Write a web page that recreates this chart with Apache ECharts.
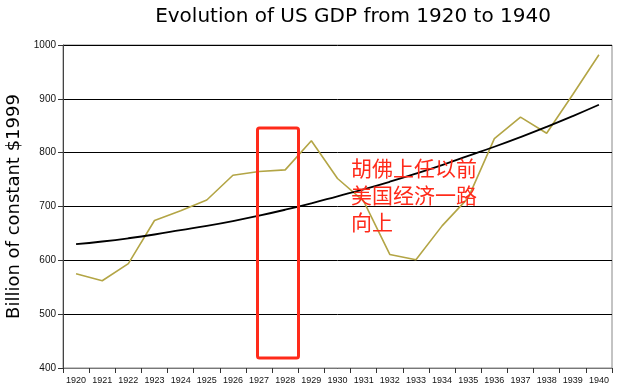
<!DOCTYPE html>
<html>
<head>
<meta charset="utf-8">
<script src="https://cdn.jsdelivr.net/npm/echarts@6/dist/echarts.min.js"></script>
<style>html,body{margin:0;padding:0;background:#fff;}#c{width:628px;height:391px;}</style>
</head>
<body>
<div id="c"></div>
<script>
const years = ['1920','1921','1922','1923','1924','1925','1926','1927','1928','1929','1930','1931','1932','1933','1934','1935','1936','1937','1938','1939','1940'];
const gdp = [575, 562, 594, 674, 692, 712, 758, 765, 768, 822, 752, 710, 611, 601, 664, 716, 826, 866, 836, 908, 982];
const trend = [630, 635, 641, 648, 656, 664, 673, 683, 694, 706, 719, 732, 746, 761, 777, 794, 811, 829, 848, 868, 889];
const yTicks = [400, 500, 600, 700, 800, 900, 1000];
const titleText = 'Evolution of US GDP from 1920 to 1940';
const yName = 'Billion of constant $1999';
const noteLines = ['胡佛上任以前', '美国经济一路', '向上'];

const chart = echarts.init(document.getElementById('c'), null, {renderer: 'canvas'});
chart.setOption({
  animation: false,
  backgroundColor: '#ffffff',
  title: {
    text: titleText, left: 348, top: 2, textAlign: 'center',
    textStyle: {fontFamily: 'DejaVu Sans', fontSize: 20, fontWeight: 'normal', color: '#000'}
  },
  grid: {left: 63, right: 16, top: 45, bottom: 23, show: true, borderColor: '#888', borderWidth: 1,
         containLabel: false, outerBoundsMode: 'none'},
  xAxis: {
    type: 'category', data: years, boundaryGap: true,
    axisLine: {lineStyle: {color: '#777', width: 1}},
    axisTick: {show: true, length: 5, lineStyle: {color: '#333'}},
    axisLabel: {fontFamily: 'Liberation Sans', fontSize: 9, color: '#111', margin: 8, interval: 0},
    splitLine: {show: false}
  },
  yAxis: {
    type: 'value', min: yTicks[0], max: yTicks[yTicks.length - 1], interval: 100,
    name: yName, nameLocation: 'middle', nameGap: 39, nameRotate: 90,
    nameTextStyle: {fontFamily: 'DejaVu Sans', fontSize: 18, color: '#000'},
    axisLine: {show: true, lineStyle: {color: '#444', width: 1}},
    axisTick: {show: true, length: 5, lineStyle: {color: '#333'}},
    axisLabel: {fontFamily: 'Liberation Sans', fontSize: 10, color: '#111', margin: 7,
                formatter: function (v) { return String(v); }},
    splitLine: {show: true, lineStyle: {color: '#000', width: 1}}
  },
  series: [
    {type: 'line', data: gdp, symbol: 'none', lineStyle: {color: '#b3a545', width: 1.6}, z: 3},
    {type: 'line', data: trend, symbol: 'none', smooth: true, lineStyle: {color: '#000', width: 1.8}, z: 4}
  ],
  graphic: [
    {type: 'rect', shape: {x: 257.5, y: 128, width: 41, height: 230, r: 2},
     style: {fill: 'none', stroke: '#ff2a1a', lineWidth: 3}, z: 10},
    {type: 'text', left: 351, top: 155,
     style: {text: noteLines.join('\n'), fill: '#ff2a1a', fontFamily: 'Noto Sans CJK SC', fontSize: 21, lineHeight: 27}, z: 10}
  ]
});
</script>
</body>
</html>
